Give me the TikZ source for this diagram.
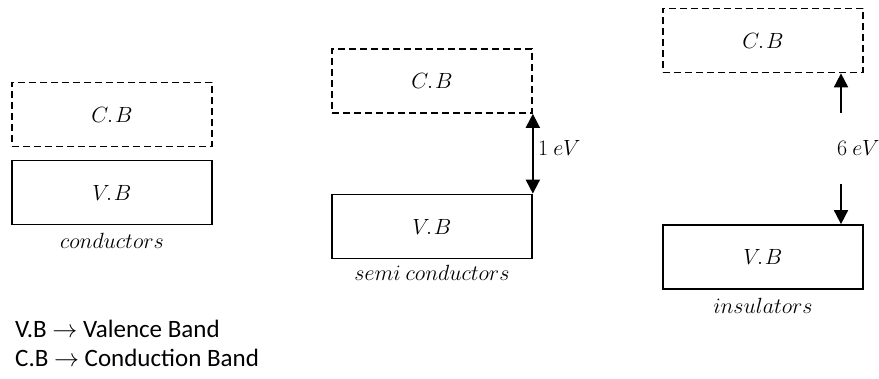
\documentclass[tikz,border=0pt]{standalone}
\usepackage{fix-cm}
\usepackage{fontspec}
\setmainfont{Carlito}
\usetikzlibrary{arrows.meta}
\newcommand{\dotsep}{.\mkern1.5mu}
\begin{document}
\begin{tikzpicture}[x=1pt,y=-1pt,
  band/.style={draw=black,line width=1.7pt,minimum width=200pt,minimum height=64pt,inner sep=0pt,font=\fontsize{22}{26}\selectfont},
  cband/.style={band,dash pattern=on 7pt off 4pt},
  lbl/.style={font=\fontsize{22}{26}\selectfont,inner sep=0pt},
  gap/.style={line width=1.7pt,-{Triangle[length=14pt,width=14pt]}},
  gap2/.style={line width=1.7pt,{Triangle[length=14pt,width=14pt]}-{Triangle[length=14pt,width=14pt]}},
  legend/.style={font=\fontsize{25}{29}\selectfont,inner sep=0pt,anchor=west}]
\useasboundingbox (0,0) rectangle (879,379);
% conductors
\node[cband] (ccb) at (112,114.5) {$C\dotsep B$};
\node[band] (cvb) at (112,192.5) {$V\dotsep B$};
\node[lbl] (clab) at (112,241) {$conductors$};
% semiconductors
\node[cband] (scb) at (432,81) {$C\dotsep B$};
\node[band] (svb) at (432,226.5) {$V\dotsep B$};
\node[lbl] (slab) at (432,273) {$semi\ conductors$};
\draw[gap2] (scb.south east) -- (svb.north east);
\node[lbl,anchor=west] (sev) at (538,148) {$1\ eV$};
% insulators
\node[cband] (icb) at (763,40.5) {$C\dotsep B$};
\node[band] (ivb) at (763,257) {$V\dotsep B$};
\node[lbl] (ilab) at (763,306) {$insulators$};
\coordinate (iu) at (841,113);
\coordinate (id) at (841,184);
\draw[gap] (iu) -- (icb.south east -| iu);
\draw[gap] (id) -- (ivb.north east -| id);
\node[lbl,anchor=west] (iev) at (837,148) {$6\ eV$};
% legend
\node[legend] (l1) at (15,329) {V.B $\rightarrow$ Valence Band};
\node[legend] (l2) at (15,358) {C.B $\rightarrow$ Conduction Band};
\end{tikzpicture}
\end{document}
